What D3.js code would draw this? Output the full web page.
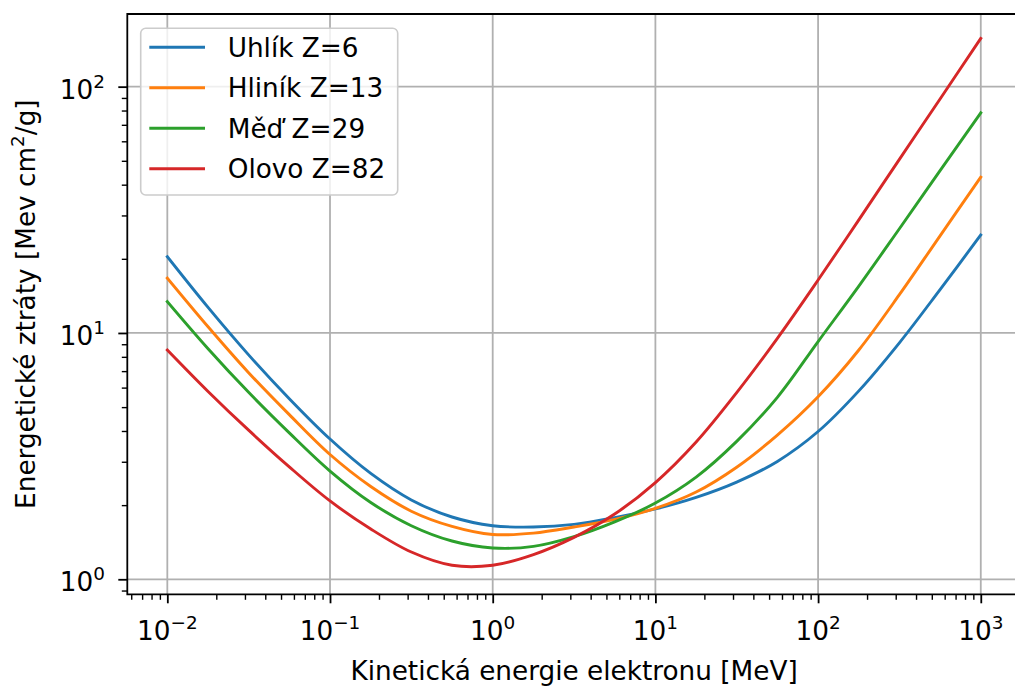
<!DOCTYPE html>
<html>
<head>
<meta charset="utf-8">
<script src="https://cdn.jsdelivr.net/npm/d3@7"></script>
<style>
  body { margin: 0; background: #fff; }
  svg { display: block; }
  text { font-family: "DejaVu Sans", sans-serif; fill: #000; }
</style>
</head>
<body>
<svg id="chart" width="1015" height="686"></svg>
<script>
// Kinetic energy of the electron [MeV]
const energies = [0.01, 0.0178, 0.0316, 0.0562, 0.1, 0.178, 0.316, 0.562, 1, 1.78,
                  3.16, 5.62, 10, 17.8, 31.6, 56.2, 100, 178, 316, 562, 1000];

// Stopping power [MeV cm^2/g] for each absorber
const carbon   = [20.4, 12.7, 8.15, 5.41, 3.71, 2.69, 2.10, 1.79, 1.65, 1.63,
                  1.67, 1.78, 1.93, 2.15, 2.48, 3.01, 3.98, 5.82, 9.12, 15.0, 25.0];
const aluminum = [16.7, 10.6, 6.90, 4.66, 3.21, 2.38, 1.89, 1.64, 1.52, 1.54,
                  1.63, 1.75, 1.94, 2.26, 2.85, 3.85, 5.51, 8.53, 14.3, 24.8, 42.9];
const copper   = [13.4, 8.63, 5.74, 3.93, 2.75, 2.05, 1.65, 1.43, 1.34, 1.36,
                  1.49, 1.71, 2.04, 2.60, 3.63, 5.48, 9.23, 15.5, 26.5, 45.6, 78.3];
const lead     = [8.53, 5.79, 4.03, 2.86, 2.08, 1.60, 1.29, 1.14, 1.14, 1.26,
                  1.48, 1.84, 2.47, 3.61, 5.73, 9.51, 16.4, 28.8, 50.7, 89.1, 157];

const seriesNames  = ["Uhlík Z=6", "Hliník Z=13", "Měď Z=29", "Olovo Z=82"];
const seriesColors = ["#1f77b4", "#ff7f0e", "#2ca02c", "#d62728"];
const seriesValues = [carbon, aluminum, copper, lead];

const xTickExponents = [-2, -1, 0, 1, 2, 3];
const yTickExponents = [0, 1, 2];

const xLabel = "Kinetická energie elektronu [MeV]";

// ---- layout ----
const FONT = 26.3;
const SUP = FONT * 0.7;
const plotLeft = 127.3, plotRight = 1020.8, plotTop = 14, plotBottom = 594.3;

const svg = d3.select("#chart");

const x = d3.scaleLog().domain([Math.pow(10, -2.246), Math.pow(10, 3.246)]).range([plotLeft, plotRight]);
const y = d3.scaleLog().domain([Math.pow(10, -0.061), Math.pow(10, 2.295)]).range([plotBottom, plotTop]);

const xMajor = xTickExponents.map(e => Math.pow(10, e));
const yMajor = yTickExponents.map(e => Math.pow(10, e));

function minorTicks(scale) {
  const [d0, d1] = scale.domain();
  const out = [];
  for (let e = Math.floor(Math.log10(d0)); e <= Math.ceil(Math.log10(d1)); e++) {
    for (let m = 2; m <= 9; m++) {
      const v = m * Math.pow(10, e);
      if (v >= d0 && v <= d1) out.push(v);
    }
  }
  return out;
}

svg.append("defs").append("clipPath").attr("id", "plotClip")
  .append("rect").attr("x", plotLeft).attr("y", plotTop)
  .attr("width", plotRight - plotLeft).attr("height", plotBottom - plotTop);

// grid at major ticks
const grid = svg.append("g").attr("stroke", "#b0b0b0").attr("stroke-width", 1.8);
grid.selectAll("line.vx").data(xMajor).join("line")
  .attr("x1", d => x(d)).attr("x2", d => x(d)).attr("y1", plotTop).attr("y2", plotBottom);
grid.selectAll("line.hy").data(yMajor).join("line")
  .attr("x1", plotLeft).attr("x2", plotRight).attr("y1", d => y(d)).attr("y2", d => y(d));

// curves
const line = d3.line()
  .x(d => x(d[0]))
  .y(d => y(d[1]))
  .curve(d3.curveCatmullRom.alpha(0.5));

svg.append("g").attr("clip-path", "url(#plotClip)")
  .selectAll("path").data(seriesValues).join("path")
  .attr("d", vals => line(energies.map((e, i) => [e, vals[i]])))
  .attr("fill", "none")
  .attr("stroke", (d, i) => seriesColors[i])
  .attr("stroke-width", 2.9)
  .attr("stroke-linecap", "square")
  .attr("stroke-linejoin", "round");

// axes ticks
const xAxisMajor = svg.append("g").attr("transform", `translate(0,${plotBottom})`)
  .call(d3.axisBottom(x).tickValues(xMajor).tickSize(9).tickFormat(() => ""));
const xAxisMinor = svg.append("g").attr("transform", `translate(0,${plotBottom})`)
  .call(d3.axisBottom(x).tickValues(minorTicks(x)).tickSize(5.5).tickFormat(() => ""));
const yAxisMajor = svg.append("g").attr("transform", `translate(${plotLeft},0)`)
  .call(d3.axisLeft(y).tickValues(yMajor).tickSize(9).tickFormat(() => ""));
const yAxisMinor = svg.append("g").attr("transform", `translate(${plotLeft},0)`)
  .call(d3.axisLeft(y).tickValues(minorTicks(y)).tickSize(5.5).tickFormat(() => ""));
[xAxisMajor, xAxisMinor, yAxisMajor, yAxisMinor].forEach(g => g.select(".domain").remove());
[xAxisMajor, yAxisMajor].forEach(g => g.selectAll(".tick line").attr("stroke", "#000").attr("stroke-width", 1.8));
[xAxisMinor, yAxisMinor].forEach(g => g.selectAll(".tick line").attr("stroke", "#000").attr("stroke-width", 1.4));

// spines
const spines = svg.append("g").attr("stroke", "#000").attr("stroke-width", 1.8).attr("fill", "none");
spines.append("path").attr("d", `M${plotRight},${plotTop}H${plotLeft}V${plotBottom}H${plotRight}`);

// tick labels with superscript exponents
function powerLabel(g, exp) {
  g.append("tspan").text("10");
  g.append("tspan").attr("font-size", SUP).attr("dy", -11)
    .text(exp < 0 ? "\u2212" + Math.abs(exp) : String(exp));
}
svg.append("g").selectAll("text").data(xTickExponents).join("text")
  .attr("x", d => x(Math.pow(10, d)))
  .attr("y", 640)
  .attr("text-anchor", "middle")
  .attr("font-size", FONT)
  .each(function(d) { powerLabel(d3.select(this), d); });

svg.append("g").selectAll("text").data(yTickExponents).join("text")
  .attr("x", 105)
  .attr("y", d => y(Math.pow(10, d)) + 12)
  .attr("text-anchor", "end")
  .attr("font-size", FONT)
  .each(function(d) { powerLabel(d3.select(this), d); });

// axis titles
svg.append("text")
  .attr("x", (plotLeft + plotRight) / 2).attr("y", 680)
  .attr("text-anchor", "middle").attr("font-size", FONT)
  .text(xLabel);

const yTitle = svg.append("text")
  .attr("transform", `translate(35,${(plotTop + plotBottom) / 2}) rotate(-90)`)
  .attr("text-anchor", "middle").attr("font-size", FONT);
yTitle.append("tspan").text("Energetické ztráty [Mev cm");
yTitle.append("tspan").attr("font-size", SUP).attr("dy", -11).text("2");
yTitle.append("tspan").attr("dy", 11).text("/g]");

// legend
const legend = svg.append("g");
legend.append("rect")
  .attr("x", 140.7).attr("y", 28.3).attr("width", 257).attr("height", 166.7)
  .attr("rx", 5).attr("ry", 5)
  .attr("fill", "#fff").attr("fill-opacity", 0.8)
  .attr("stroke", "#cccccc").attr("stroke-width", 1.6);
const rows = legend.selectAll("g.row").data(seriesNames).join("g")
  .attr("transform", (d, i) => `translate(0,${47.3 + i * 40.5})`);
rows.append("line")
  .attr("x1", 149.3).attr("x2", 205).attr("y1", 0).attr("y2", 0)
  .attr("stroke", (d, i) => seriesColors[i]).attr("stroke-width", 2.9);
rows.append("text")
  .attr("x", 227.7).attr("y", 9.5)
  .attr("font-size", FONT)
  .text(d => d);
</script>
</body>
</html>
